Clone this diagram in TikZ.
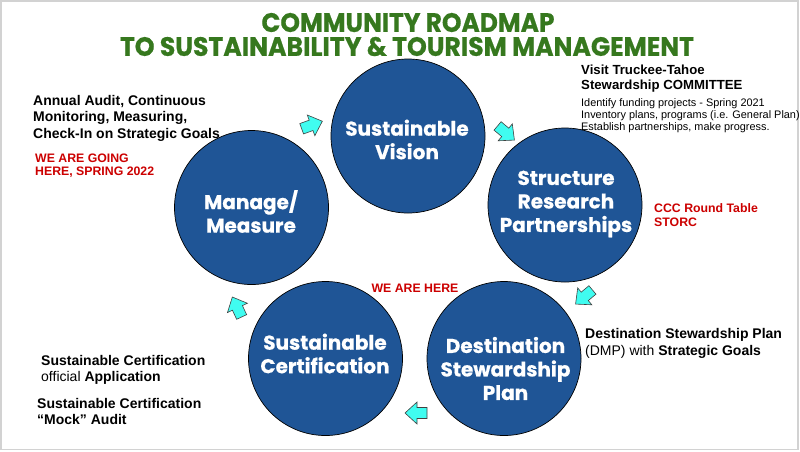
\documentclass[tikz,border=0pt]{standalone}
\usepackage{fontspec}
\usepackage{graphicx}
\setmainfont{Liberation Sans}
\newfontfamily\popfam{Poppins}[BoldFeatures={FakeBold=0.6}]
\definecolor{titlegreen}{RGB}{54,120,30}
\definecolor{circblue}{RGB}{31,85,150}
\definecolor{arrowcyan}{RGB}{64,252,240}
\definecolor{notered}{RGB}{204,0,0}
\begin{document}
\begin{tikzpicture}[x=1pt,y=-1pt,
  circ/.style={circle, draw=black, line width=0.7pt, fill=circblue, minimum size=154pt, inner sep=0pt},
  ctext/.style={text=white, font=\popfam\bfseries\fontsize{20}{23.5}\selectfont, align=center, inner sep=0pt},
  bline/.style={font=\bfseries\fontsize{14}{16}\selectfont, inner sep=0pt, anchor=base west},
  rline/.style={text=notered, font=\bfseries\fontsize{12.3}{14}\selectfont, inner sep=0pt, anchor=base west},
  smline/.style={font=\fontsize{10.9}{12}\selectfont, inner sep=0pt, anchor=base west},
  hline/.style={font=\bfseries\fontsize{13.2}{15}\selectfont, inner sep=0pt, anchor=base west},
  flowarrow/.style={draw=black!75, line width=0.6pt, fill=arrowcyan, line join=miter},
  titletext/.style={text=titlegreen, font=\popfam\bfseries, inner sep=0pt}
]
\useasboundingbox (0,0) rectangle (800,451);
\fill[white] (0,0) rectangle (800,451);
\draw[gray!35, line width=1.4pt] (1,1) rectangle (798,449.5);

% title
\node[titletext] (t1) at (408,22.5) {\resizebox{293pt}{19pt}{COMMUNITY ROADMAP}};
\node[titletext] (t2) at (407,46.5) {\resizebox{574pt}{19pt}{TO SUSTAINABILITY \& TOURISM MANAGEMENT}};

% circles
\node[circ] (vision) at (408,136) {};
\node[circ] (structure) at (565,205) {};
\node[circ] (destination) at (504,358.5) {};
\node[circ] (certification) at (325.5,358.5) {};
\node[circ] (manage) at (251.5,207.5) {};

\node[ctext] (visiont) at (407,139.5) {Sustainable\\Vision};
\node[ctext] (structuret) at (566,204) {Structure\\Research\\Partnerships};
\node[ctext] (destinationt) at (505.5,368.5) {Destination\\Stewardship\\Plan};
\node[ctext] (certificationt) at (325,353.5) {Sustainable\\Certification};
\node[ctext] (managet) at (251,211.5) {Manage/\\Measure};

% block arrows
\coordinate (a1) at (312,125);
\coordinate (a2) at (506,133);
\coordinate (a3) at (584,297);
\coordinate (a4) at (416,413);
\coordinate (a5) at (237,307);
\draw[flowarrow, shift={(a1)}, rotate=20] (-11,-5.5) -- (-1,-5.5) -- (-1,-11) -- (11,0) -- (-1,11) -- (-1,5.5) -- (-11,5.5) -- cycle;
\draw[flowarrow, shift={(a2)}, rotate=-40] (-11,-5.5) -- (-1,-5.5) -- (-1,-11) -- (11,0) -- (-1,11) -- (-1,5.5) -- (-11,5.5) -- cycle;
\draw[flowarrow, shift={(a3)}, rotate=-140] (-11,-5.5) -- (-1,-5.5) -- (-1,-11) -- (11,0) -- (-1,11) -- (-1,5.5) -- (-11,5.5) -- cycle;
\draw[flowarrow, shift={(a4)}, rotate=180] (-11,-5.5) -- (-1,-5.5) -- (-1,-11) -- (11,0) -- (-1,11) -- (-1,5.5) -- (-11,5.5) -- cycle;
\draw[flowarrow, shift={(a5)}, rotate=115] (-11,-5.5) -- (-1,-5.5) -- (-1,-11) -- (11,0) -- (-1,11) -- (-1,5.5) -- (-11,5.5) -- cycle;

% top-left notes
\node[bline] (n1) at (33,105) {Annual Audit, Continuous};
\node[bline] (n2) at (33,121.5) {Monitoring, Measuring,};
\node[bline] (n3) at (33,138) {Check-In on Strategic Goals};
\node[rline] (r1) at (35,162.4) {WE ARE GOING};
\node[rline] (r2) at (35,175.6) {HERE, SPRING 2022};

% top-right notes
\node[hline] (v1) at (581,74.7) {Visit Truckee-Tahoe};
\node[hline] (v2) at (581,89.7) {Stewardship COMMITTEE};
\node[smline] (s1) at (581,106.2) {Identify funding projects - Spring 2021};
\node[smline] (s2) at (581,118.1) {Inventory plans, programs (i.e. General Plan)};
\node[smline] (s3) at (581,130) {Establish partnerships, make progress.};

% CCC
\node[rline] (c1) at (654,212.3) {CCC Round Table};
\node[rline] (c2) at (654,226.3) {STORC};

% destination note
\node[bline] (d1) at (585,338) {Destination Stewardship Plan};
\node[bline, font=\fontsize{14}{16}\selectfont] (d2) at (585,355) {(DMP) with \textbf{Strategic Goals}};

% we are here
\node[rline, anchor=base] (here) at (415,292.4) {WE ARE HERE};

% bottom-left notes
\node[bline] (b1) at (41,365) {Sustainable Certification};
\node[bline, font=\fontsize{14}{16}\selectfont] (b2) at (41,381) {official \textbf{Application}};
\node[bline] (b3) at (37,408.3) {Sustainable Certification};
\node[bline] (b4) at (37,424.3) {“Mock” Audit};
\end{tikzpicture}
\end{document}
